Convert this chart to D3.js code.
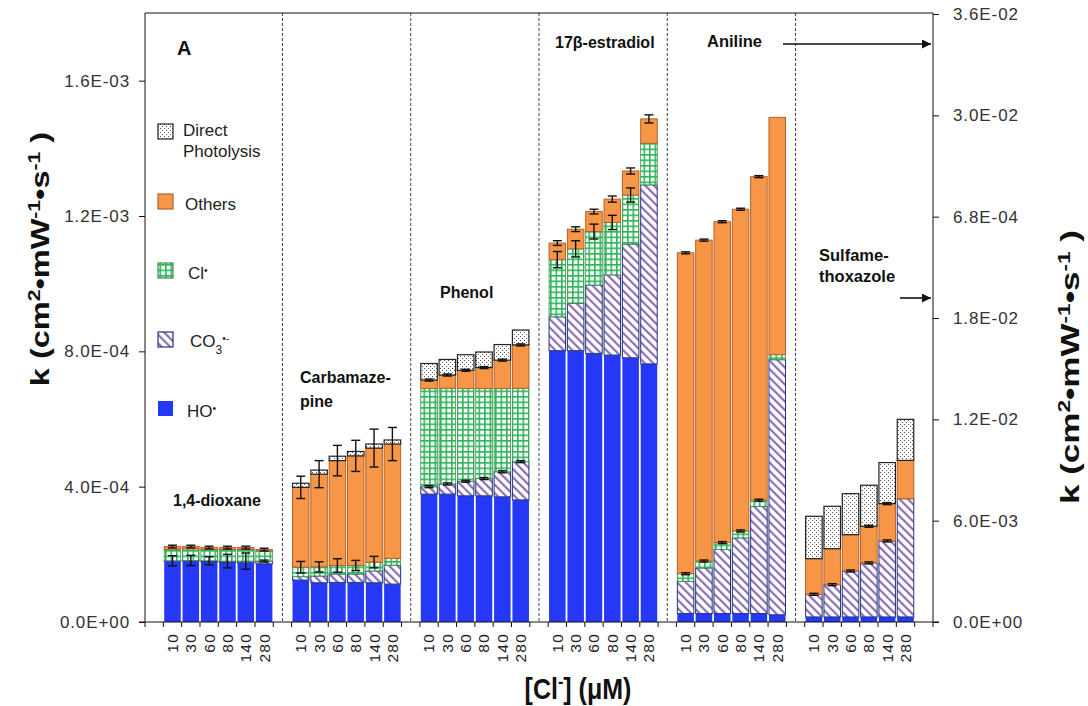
<!DOCTYPE html>
<html>
<head>
<meta charset="utf-8">
<script src="https://cdn.jsdelivr.net/npm/d3@7"></script>
<style>
  body { margin: 0; background: #fff; }
  svg { display: block; font-family: "Liberation Sans", Arial, sans-serif; }
</style>
</head>
<body>
<svg id="chart" width="1088" height="706"></svg>
<script>
// Pseudo-first-order rate constants, k (cm2·mW-1·s-1), split by reactive species
const concentrations = ["10", "30", "60", "80", "140", "280"];
const compounds = ["1,4-dioxane", "Carbamazepine", "Phenol", "17β-estradiol", "Aniline", "Sulfamethoxazole"];
const axisSide = ["left", "left", "left", "left", "right", "right"];

const hoRate = [
  [1.80e-4, 1.80e-4, 1.78e-4, 1.76e-4, 1.75e-4, 1.72e-4],
  [1.24e-4, 1.16e-4, 1.17e-4, 1.17e-4, 1.16e-4, 1.12e-4],
  [3.78e-4, 3.78e-4, 3.73e-4, 3.73e-4, 3.70e-4, 3.61e-4],
  [8.02e-4, 8.02e-4, 7.94e-4, 7.89e-4, 7.81e-4, 7.63e-4],
  [5.0e-4, 5.0e-4, 5.0e-4, 5.0e-4, 5.0e-4, 4.3e-4],
  [3.0e-4, 3.0e-4, 3.0e-4, 3.0e-4, 3.0e-4, 3.0e-4]
];
const co3Rate = [
  [1e-6, 2e-6, 3e-6, 4e-6, 5e-6, 8e-6],
  [1.0e-5, 2.0e-5, 2.5e-5, 2.5e-5, 3.5e-5, 5.6e-5],
  [2.2e-5, 3.0e-5, 4.3e-5, 5.1e-5, 7.4e-5, 1.13e-4],
  [1.00e-4, 1.40e-4, 2.02e-4, 2.37e-4, 3.36e-4, 5.29e-4],
  [1.91e-3, 2.70e-3, 3.79e-3, 4.48e-3, 6.35e-3, 1.51e-2],
  [1.34e-3, 1.91e-3, 2.72e-3, 3.20e-3, 4.50e-3, 7.00e-3]
];
const clRate = [
  [3.4e-5, 3.4e-5, 3.3e-5, 3.4e-5, 3.4e-5, 3.0e-5],
  [2.8e-5, 2.7e-5, 2.5e-5, 2.5e-5, 2.6e-5, 2.0e-5],
  [2.90e-4, 2.83e-4, 2.74e-4, 2.66e-4, 2.46e-4, 2.17e-4],
  [1.69e-4, 1.61e-4, 1.58e-4, 1.55e-4, 1.45e-4, 1.23e-4],
  [4.5e-4, 4.1e-4, 4.1e-4, 4.1e-4, 3.6e-4, 3.0e-4],
  [0, 0, 0, 0, 0, 0]
];
const othersRate = [
  [8e-6, 7e-6, 6e-6, 6e-6, 6e-6, 4e-6],
  [2.36e-4, 2.74e-4, 3.10e-4, 3.24e-4, 3.37e-4, 3.38e-4],
  [2.5e-5, 3.9e-5, 5.4e-5, 6.2e-5, 8.4e-5, 1.28e-4],
  [4.9e-5, 5.8e-5, 5.9e-5, 6.9e-5, 7.1e-5, 7.2e-5],
  [1.90e-2, 1.90e-2, 1.90e-2, 1.905e-2, 1.916e-2, 1.405e-2],
  [2.11e-3, 2.13e-3, 2.15e-3, 2.17e-3, 2.21e-3, 2.27e-3]
];
const directRate = [
  [0, 0, 0, 0, 0, 0],
  [1.2e-5, 1.2e-5, 1.3e-5, 1.3e-5, 1.2e-5, 1.2e-5],
  [4.9e-5, 4.6e-5, 4.6e-5, 4.6e-5, 4.6e-5, 4.4e-5],
  [0, 0, 0, 0, 0, 0],
  [0, 0, 0, 0, 0, 0],
  [2.51e-3, 2.51e-3, 2.43e-3, 2.43e-3, 2.43e-3, 2.43e-3]
];
// error at the top of "Others" and at the top of the lower reactive-species block
const upperError = [
  [4e-6, 4e-6, 4e-6, 4e-6, 4e-6, 4e-6],
  [3.3e-5, 4.0e-5, 4.5e-5, 4.6e-5, 5.6e-5, 4.9e-5],
  [3e-6, 3e-6, 3e-6, 3e-6, 3e-6, 3e-6],
  [7e-6, 7e-6, 7e-6, 9e-6, 9e-6, 1.2e-5],
  [6e-5, 6e-5, 6e-5, 6e-5, 6e-5, 0],
  [0, 0, 0, 6e-5, 6e-5, 0]
];
const lowerError = [
  [1.5e-5, 1.5e-5, 1.2e-5, 2.0e-5, 2.4e-5, 3e-6],
  [1.7e-5, 1.5e-5, 2.0e-5, 1.5e-5, 1.7e-5, 0],
  [3e-6, 3e-6, 3e-6, 3e-6, 3e-6, 3e-6],
  [2.4e-5, 2.4e-5, 2.2e-5, 2.1e-5, 2.1e-5, 0],
  [6e-5, 6e-5, 6e-5, 6e-5, 6e-5, 0],
  [6e-5, 6e-5, 6e-5, 6e-5, 6e-5, 0]
];
// which stacked block the lower error sits on
const lowerErrorOn = ["co3", "cl", "co3", "cl", "cl", "co3"];

const leftTicks = [0, 4e-4, 8e-4, 1.2e-3, 1.6e-3];
const leftTickLabels = ["0.0E+00", "4.0E-04", "8.0E-04", "1.2E-03", "1.6E-03"];
const rightTicks = [0, 6e-3, 1.2e-2, 1.8e-2, 2.4e-2, 3.0e-2, 3.6e-2];
const rightTickLabels = ["0.0E+00", "6.0E-03", "1.2E-02", "1.8E-02", "6.8E-04", "3.0E-02", "3.6E-02"];

// ---------------------------------------------------------------------------
const svg = d3.select("#chart");
const X0 = 145, X1 = 933, Y0 = 622, Y1 = 13;

const slotKeys = [];
compounds.forEach((c, i) => {
  slotKeys.push("gap" + i);
  concentrations.forEach(k => slotKeys.push(i + "|" + k));
});
slotKeys.push("gapEnd");

const x = d3.scaleBand().domain(slotKeys).range([X0, X1]).padding(0);
const yLeft = d3.scaleLinear().domain([0, 1.8e-3]).range([Y0, Y1]);
const yRight = d3.scaleLinear().domain([0, 3.6e-2]).range([Y0, 14]);
const yOf = i => axisSide[i] === "left" ? yLeft : yRight;

// fill patterns
const defs = svg.append("defs");
const pDirect = defs.append("pattern").attr("id", "pDirect").attr("patternUnits", "userSpaceOnUse")
  .attr("width", 4).attr("height", 4);
pDirect.append("rect").attr("width", 4).attr("height", 4).attr("fill", "#fff");
pDirect.append("rect").attr("x", 0).attr("y", 0).attr("width", 1).attr("height", 1).attr("fill", "#555");
pDirect.append("rect").attr("x", 2).attr("y", 2).attr("width", 1).attr("height", 1).attr("fill", "#555");

const pCl = defs.append("pattern").attr("id", "pCl").attr("patternUnits", "userSpaceOnUse")
  .attr("width", 5.5).attr("height", 5.5);
pCl.append("rect").attr("width", 5.5).attr("height", 5.5).attr("fill", "#fff");
pCl.append("rect").attr("width", 5.5).attr("height", 1.6).attr("fill", "#2fb55a");
pCl.append("rect").attr("width", 1.6).attr("height", 5.5).attr("fill", "#2fb55a");

const pCo3 = defs.append("pattern").attr("id", "pCo3").attr("patternUnits", "userSpaceOnUse")
  .attr("width", 6).attr("height", 6).attr("patternTransform", "rotate(-45)");
pCo3.append("rect").attr("width", 6).attr("height", 6).attr("fill", "#fff");
pCo3.append("rect").attr("width", 2.2).attr("height", 6).attr("fill", "#8a70b8");

const seriesStyle = {
  ho:     { fill: "#2438f6", stroke: "none", sw: 0 },
  co3:    { fill: "url(#pCo3)", stroke: "#26357a", sw: 1 },
  cl:     { fill: "url(#pCl)", stroke: "#3b8f4d", sw: 0.8 },
  others: { fill: "#f79646", stroke: "#b4612a", sw: 1 },
  direct: { fill: "url(#pDirect)", stroke: "#222", sw: 1.2 }
};
const seriesData = { ho: hoRate, co3: co3Rate, cl: clRate, others: othersRate, direct: directRate };
const seriesOrder = ["ho", "co3", "cl", "others", "direct"];

// stacked segments
const segments = [];
const errors = [];
compounds.forEach((c, i) => {
  concentrations.forEach((k, j) => {
    let base = 0;
    const tops = {};
    seriesOrder.forEach(s => {
      const v = seriesData[s][i][j];
      if (v > 0) segments.push({ i, j, key: i + "|" + k, s, y0: base, y1: base + v });
      base += v;
      tops[s] = base;
    });
    errors.push({ i, key: i + "|" + k, at: tops.others, e: upperError[i][j] });
    errors.push({ i, key: i + "|" + k, at: tops[lowerErrorOn[i]], e: lowerError[i][j] });
  });
});

const bw = x.bandwidth();
const gBars = svg.append("g");
gBars.selectAll("rect").data(segments).join("rect")
  .attr("x", d => x(d.key) + 0.9)
  .attr("width", bw - 1.8)
  .attr("y", d => yOf(d.i)(d.y1))
  .attr("height", d => yOf(d.i)(d.y0) - yOf(d.i)(d.y1))
  .attr("fill", d => seriesStyle[d.s].fill)
  .attr("stroke", d => seriesStyle[d.s].stroke)
  .attr("stroke-width", d => seriesStyle[d.s].sw);

// error bars
const gErr = svg.append("g").attr("stroke", "#111").attr("stroke-width", 1.4).attr("fill", "none");
errors.filter(d => d.e > 0).forEach(d => {
  const y = yOf(d.i), cx = x(d.key) + bw / 2;
  const ya = y(d.at + d.e), yb = y(d.at - d.e);
  gErr.append("line").attr("x1", cx).attr("x2", cx).attr("y1", ya).attr("y2", yb);
  gErr.append("line").attr("x1", cx - 4.5).attr("x2", cx + 4.5).attr("y1", ya).attr("y2", ya);
  gErr.append("line").attr("x1", cx - 4.5).attr("x2", cx + 4.5).attr("y1", yb).attr("y2", yb);
});

// panel separators
const gSep = svg.append("g");
d3.range(1, compounds.length).forEach(i => {
  const sx = x("gap" + i) + bw / 2;
  gSep.append("line").attr("x1", sx).attr("x2", sx).attr("y1", Y1).attr("y2", Y0)
    .attr("stroke", "#444").attr("stroke-width", 1).attr("stroke-dasharray", "3,2");
});

// frame and axes
const axisColor = "#111";
svg.append("line").attr("x1", X0).attr("x2", X1).attr("y1", Y1).attr("y2", Y1).attr("stroke", axisColor);
svg.append("line").attr("x1", X0 - 6).attr("x2", X1 + 6).attr("y1", Y0).attr("y2", Y0).attr("stroke", axisColor);

const leftAxis = d3.axisLeft(yLeft).tickValues(leftTicks).tickSize(6).tickPadding(9)
  .tickFormat((d, k) => leftTickLabels[k]);
const gL = svg.append("g").attr("transform", `translate(${X0},0)`).call(leftAxis);
const rightAxis = d3.axisRight(yRight).tickValues(rightTicks).tickSize(6).tickPadding(14)
  .tickFormat((d, k) => rightTickLabels[k]);
const gR = svg.append("g").attr("transform", `translate(${X1},0)`).call(rightAxis);
[gL, gR].forEach(g => {
  g.select(".domain").remove();
  g.selectAll(".tick line").attr("stroke", axisColor);
  g.selectAll(".tick text").attr("font-size", 17).attr("fill", "#333")
    .attr("letter-spacing", 0.9).attr("font-family", "'Liberation Sans', Arial, sans-serif");
  g.append("line").attr("y1", Y1).attr("y2", Y0).attr("stroke", axisColor);
});

// category ticks at slot boundaries
const gX = svg.append("g");
d3.range(slotKeys.length + 1).forEach(k => {
  const tx = X0 + k * x.step();
  gX.append("line").attr("x1", tx).attr("x2", tx).attr("y1", Y0).attr("y2", Y0 + 5).attr("stroke", axisColor);
});
compounds.forEach((c, i) => {
  concentrations.forEach(k => {
    const cx = x(i + "|" + k) + bw / 2;
    gX.append("text").attr("transform", `translate(${cx},${Y0 + 11}) rotate(-90)`)
      .attr("text-anchor", "end").attr("dy", "0.35em")
      .attr("font-size", 15.5).attr("letter-spacing", 1.2).attr("fill", "#222").text(k);
  });
});

// axis titles (superscripts via baseline-shift so the baseline never drifts)
const sup = (g, str) => g.append("tspan").attr("font-size", "65%").attr("baseline-shift", "super").text(str);
function kTitle(g) {
  g.append("tspan").text("k (cm");
  sup(g, "2");
  g.append("tspan").text("•mW");
  sup(g, "-1");
  g.append("tspan").text("•s");
  sup(g, "-1");
  g.append("tspan").text(" )");
}
kTitle(svg.append("text").attr("transform", "translate(49,259) rotate(-90) scale(1.3,1)")
  .attr("text-anchor", "middle").attr("font-weight", "bold").attr("font-size", 25).attr("fill", "#111"));
kTitle(svg.append("text").attr("transform", "translate(1079,367) rotate(-90) scale(1.4,1)")
  .attr("text-anchor", "middle").attr("font-weight", "bold").attr("font-size", 25).attr("fill", "#111"));

const xt = svg.append("text").attr("transform", "translate(578,699) scale(1,1.15)").attr("text-anchor", "middle")
  .attr("font-weight", "bold").attr("font-size", 25).attr("fill", "#111");
xt.append("tspan").text("[Cl");
sup(xt, "-");
xt.append("tspan").text("] (μM)");

// panel letter and compound names
const bold = (tx, ty, str, size, anchor) => svg.append("text").attr("x", tx).attr("y", ty)
  .attr("font-weight", "bold").attr("font-size", size || 16).attr("fill", "#111")
  .attr("text-anchor", anchor || "start").text(str);
bold(177, 55, "A", 20);
bold(217, 506, "1,4-dioxane", 16, "middle");
bold(300, 383, "Carbamaze-", 16);
bold(300, 407, "pine", 16);
bold(440, 298, "Phenol", 16);
bold(555, 48, "17β-estradiol", 16);
bold(707, 47, "Aniline", 16.5);
bold(819, 261, "Sulfame-", 16.5);
bold(819, 282, "thoxazole", 16.5);

// arrows pointing to the secondary axis
defs.append("marker").attr("id", "arrowHead").attr("viewBox", "0 0 10 10").attr("refX", 10).attr("refY", 5)
  .attr("markerWidth", 9).attr("markerHeight", 9).attr("markerUnits", "userSpaceOnUse").attr("orient", "auto")
  .append("path").attr("d", "M0,0L10,5L0,10z").attr("fill", "#111");
svg.append("line").attr("x1", 783).attr("x2", 931).attr("y1", 44).attr("y2", 44)
  .attr("stroke", "#111").attr("stroke-width", 1.6).attr("marker-end", "url(#arrowHead)");
svg.append("line").attr("x1", 900).attr("x2", 931).attr("y1", 298).attr("y2", 298)
  .attr("stroke", "#111").attr("stroke-width", 1.6).attr("marker-end", "url(#arrowHead)");

// legend
const legend = [
  { s: "direct", y: 124 },
  { s: "others", y: 194 },
  { s: "cl", y: 263 },
  { s: "co3", y: 332 },
  { s: "ho", y: 401 }
];
const gLeg = svg.append("g");
legend.forEach(d => {
  const st = seriesStyle[d.s];
  gLeg.append("rect").attr("x", 158).attr("y", d.y).attr("width", 15).attr("height", 15)
    .attr("fill", st.fill).attr("stroke", d.s === "ho" ? "none" : st.stroke).attr("stroke-width", 1.2);
});
const legText = (tx, ty) => gLeg.append("text").attr("x", tx).attr("y", ty).attr("font-size", 17).attr("fill", "#222");
legText(183, 136).text("Direct");
legText(183, 157).text("Photolysis");
legText(185, 210).text("Others");
const tCl = legText(188, 279);
tCl.append("tspan").text("Cl");
tCl.append("tspan").attr("font-size", "60%").attr("baseline-shift", "super").text("•");
const tCo = legText(190, 347);
tCo.append("tspan").text("CO");
tCo.append("tspan").attr("font-size", "70%").attr("baseline-shift", "sub").text("3");
tCo.append("tspan").attr("font-size", "60%").attr("baseline-shift", "super").text("•-");
const tHo = legText(187, 417);
tHo.append("tspan").text("HO");
tHo.append("tspan").attr("font-size", "60%").attr("baseline-shift", "super").text("•");
</script>
</body>
</html>
